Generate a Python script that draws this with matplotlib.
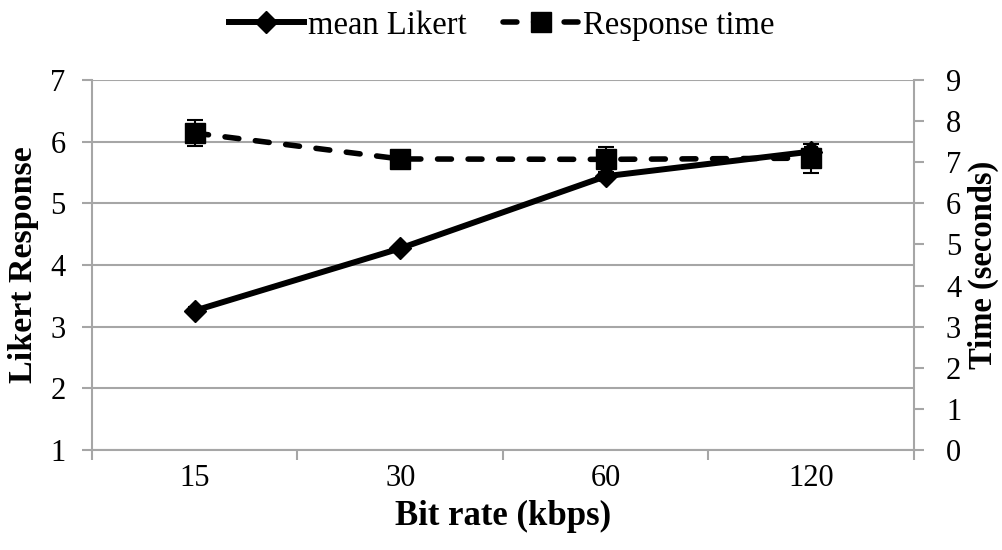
import matplotlib
matplotlib.use("Agg")
import matplotlib.pyplot as plt
from matplotlib.lines import Line2D
import numpy as np

plt.rcParams['font.family'] = ['Liberation Serif', 'DejaVu Serif']

# Data
bit_rates = ["15", "30", "60", "120"]
likert_mean = [3.26, 4.27, 5.44, 5.84]
likert_err = [0.06, 0.06, 0.07, 0.08]
response_time = [7.71, 7.08, 7.07, 7.10]
response_err = [0.32, 0.10, 0.30, 0.35]

grid_color = "#a6a6a6"
fs = 22
label_fs = 25
dash = (0, (2.5, 3.0))

fig = plt.figure(figsize=(10.03, 5.5), dpi=100)
ax = fig.add_axes([0.0917, 0.1818, 0.8195, 0.6727])
ax2 = ax.twinx()

x = np.arange(len(bit_rates))

ax.errorbar(x, likert_mean, yerr=likert_err, color="black", lw=4.3,
            marker="D", markersize=11, capsize=5, elinewidth=1.5,
            capthick=1.5, zorder=3)
ax2.errorbar(x, response_time, yerr=response_err, color="black",
             lw=4, ls=dash, dash_capstyle="round", marker="s",
             markersize=15, capsize=6, elinewidth=1.5,
             capthick=1.5, zorder=3)

ax.set_xlim(-0.5, len(bit_rates) - 0.5)
ax.set_ylim(1, 7)
ax.set_yticks(range(1, 8))
ax2.set_ylim(0, 9)
ax2.set_yticks(range(0, 10))

ax.set_xticks(x)
ax.set_xticklabels(bit_rates, fontsize=fs)
ax.set_xticks(np.arange(-0.5, len(bit_rates)), minor=True)
ax.tick_params(axis="x", which="major", length=0, pad=10)
ax.tick_params(axis="x", which="minor", length=7, width=1.5, color=grid_color)
ax.tick_params(axis="y", labelsize=fs, length=7, width=1.5, color=grid_color, pad=12)
ax2.tick_params(axis="y", labelsize=fs, length=7, width=1.5, color=grid_color, pad=16)

ax.yaxis.grid(True, color=grid_color, lw=1.5)
ax.set_axisbelow(True)

for a in (ax, ax2):
    a.spines["top"].set_visible(False)
    for s in ("left", "right", "bottom"):
        a.spines[s].set_color(grid_color)
        a.spines[s].set_linewidth(1.5)
ax2.spines["left"].set_visible(False)
ax2.spines["bottom"].set_visible(False)
ax.spines["right"].set_visible(False)

ax.set_xlabel("Bit rate (kbps)", fontsize=label_fs, fontweight="bold", labelpad=5)
ax.set_ylabel("Likert Response", fontsize=24.5, fontweight="bold", labelpad=8)
ax2.set_ylabel("Time (seconds)", fontsize=23.5, fontweight="bold", labelpad=5)

h1 = Line2D([], [], color="black", lw=4.3, marker="D", markersize=11)
h2 = Line2D([], [], color="black", lw=4, ls=dash, dash_capstyle="round",
            marker="s", markersize=15)
fig.legend(handles=[h1, h2], labels=["mean Likert", "Response time"],
           loc="upper center", bbox_to_anchor=(0.5, 1.035), ncol=2,
           frameon=False, fontsize=23.5, handlelength=2.3, handletextpad=0.15,
           columnspacing=1.1)

fig.savefig("out.png", dpi=100)
